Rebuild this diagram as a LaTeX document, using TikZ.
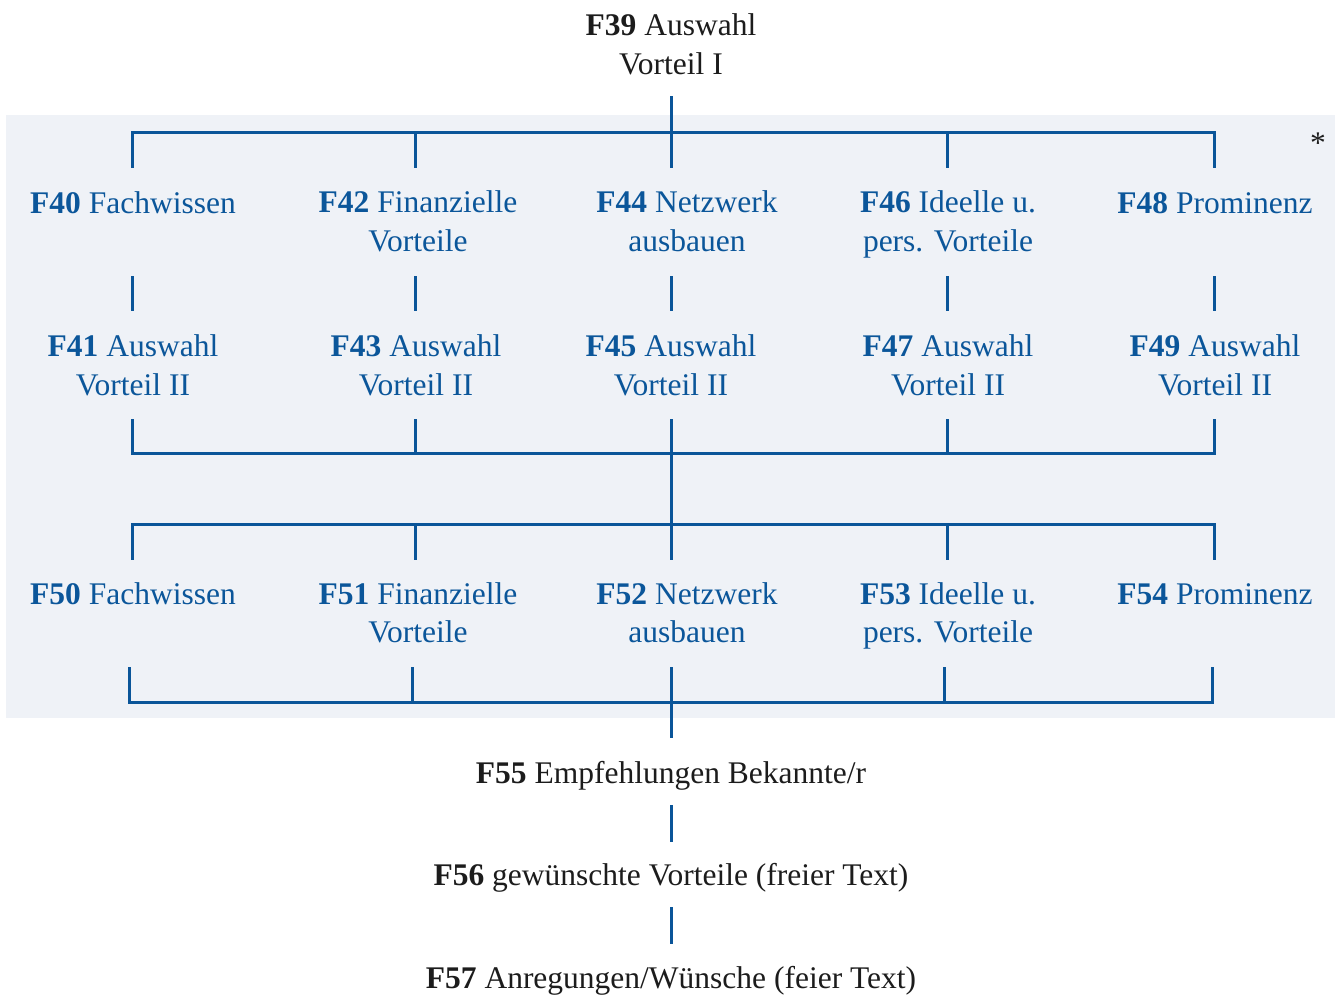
\documentclass[tikz,border=0pt]{standalone}
\usepackage{fontspec}
\setmainfont{Liberation Serif}
\definecolor{bgpanel}{HTML}{EFF2F7}
\definecolor{linkblue}{HTML}{0A5599}
\definecolor{textblue}{HTML}{0B569A}
\definecolor{textdark}{HTML}{1C1C1C}
\newcommand{\Ln}[1]{\strut#1}
\tikzset{
  x=1pt, y=-1pt,
  lbl/.style={inner sep=0pt, outer sep=0pt, align=center, anchor=center,
    font=\fontsize{31.5}{38.5}\selectfont},
  inner/.style={lbl, text=textblue},
  outer/.style={lbl, text=textdark},
  link/.style={draw=linkblue, line width=3pt, line cap=rect},
}
\begin{document}
\begin{tikzpicture}
\useasboundingbox (0,0) rectangle (1336,996);
\fill[bgpanel] (6,115) rectangle (1335,718);

% nodes
\node[outer] (f39) at (671,47.3) {\Ln{\textbf{F39} Auswahl}\\\Ln{Vorteil I}};
\node[outer] (star) at (1318,145.3) {\Ln{*}};

\node[inner] (f40) at (133,205.3) {\Ln{\textbf{F40} Fachwissen}};
\node[inner] (f42) at (418,224.3) {\Ln{\textbf{F42} Finanzielle}\\\Ln{Vorteile}};
\node[inner] (f44) at (687,224.3) {\Ln{\textbf{F44} Netzwerk}\\\Ln{ausbauen}};
\node[inner] (f46) at (948,224.3) {\Ln{\textbf{F46} Ideelle u.}\\\Ln{pers. Vorteile}};
\node[inner] (f48) at (1215,205.3) {\Ln{\textbf{F48} Prominenz}};

\node[inner] (f41) at (133,368.3) {\Ln{\textbf{F41} Auswahl}\\\Ln{Vorteil II}};
\node[inner] (f43) at (416,368.3) {\Ln{\textbf{F43} Auswahl}\\\Ln{Vorteil II}};
\node[inner] (f45) at (671,368.3) {\Ln{\textbf{F45} Auswahl}\\\Ln{Vorteil II}};
\node[inner] (f47) at (948,368.3) {\Ln{\textbf{F47} Auswahl}\\\Ln{Vorteil II}};
\node[inner] (f49) at (1215,368.3) {\Ln{\textbf{F49} Auswahl}\\\Ln{Vorteil II}};

\node[inner] (f50) at (133,596.3) {\Ln{\textbf{F50} Fachwissen}};
\node[inner] (f51) at (418,615.8) {\Ln{\textbf{F51} Finanzielle}\\\Ln{Vorteile}};
\node[inner] (f52) at (687,615.8) {\Ln{\textbf{F52} Netzwerk}\\\Ln{ausbauen}};
\node[inner] (f53) at (948,615.8) {\Ln{\textbf{F53} Ideelle u.}\\\Ln{pers. Vorteile}};
\node[inner] (f54) at (1215,596.3) {\Ln{\textbf{F54} Prominenz}};

\node[outer] (f55) at (671,775.3) {\Ln{\textbf{F55} Empfehlungen Bekannte/r}};
\node[outer] (f56) at (671,877.3) {\Ln{\textbf{F56} gewünschte Vorteile (freier Text)}};
\node[outer] (f57) at (671,980.3) {\Ln{\textbf{F57} Anregungen/Wünsche (feier Text)}};

% connector coordinates
\coordinate (s39) at (671,97);
\coordinate (h1) at (671,132);
\coordinate (a1) at (132,166); \coordinate (a2) at (415,166);
\coordinate (a3) at (671,166); \coordinate (a4) at (947,166);
\coordinate (a5) at (1214,166);

\foreach \i/\x in {1/132,2/415,3/671,4/947,5/1214}{
  \coordinate (m\i t) at (\x,277);
  \coordinate (m\i b) at (\x,309);
  \coordinate (c\i) at (\x,420);
  \coordinate (d\i) at (\x,558);
}
\coordinate (b1) at (132,453); \coordinate (b5) at (1214,453);
\coordinate (e1) at (132,524); \coordinate (e5) at (1214,524);
\foreach \i/\x in {1/129,2/412,3/671,4/944,5/1212}{
  \coordinate (g\i) at (\x,668);
}
\coordinate (k1) at (129,702); \coordinate (k5) at (1212,702);
\coordinate (s55) at (671,736);
\coordinate (u1) at (671,806); \coordinate (u2) at (671,840);
\coordinate (v1) at (671,908); \coordinate (v2) at (671,942);

% connectors
\draw[link] (s39) -- (a3);
\draw[link] (a1) -- (a1 |- h1) -- (a5 |- h1) -- (a5);
\draw[link] (a2) -- (a2 |- h1);
\draw[link] (a4) -- (a4 |- h1);
\foreach \i in {1,...,5}{ \draw[link] (m\i t) -- (m\i b); }

\draw[link] (c1) -- (b1) -- (b5) -- (c5);
\draw[link] (c2) -- (c2 |- b1);
\draw[link] (c4) -- (c4 |- b1);
\draw[link] (c3) -- (d3);
\draw[link] (d1) -- (e1) -- (e5) -- (d5);
\draw[link] (d2) -- (d2 |- e1);
\draw[link] (d4) -- (d4 |- e1);

\draw[link] (g1) -- (k1) -- (k5) -- (g5);
\draw[link] (g2) -- (g2 |- k1);
\draw[link] (g4) -- (g4 |- k1);
\draw[link] (g3) -- (s55);
\draw[link] (u1) -- (u2);
\draw[link] (v1) -- (v2);
\end{tikzpicture}
\end{document}
